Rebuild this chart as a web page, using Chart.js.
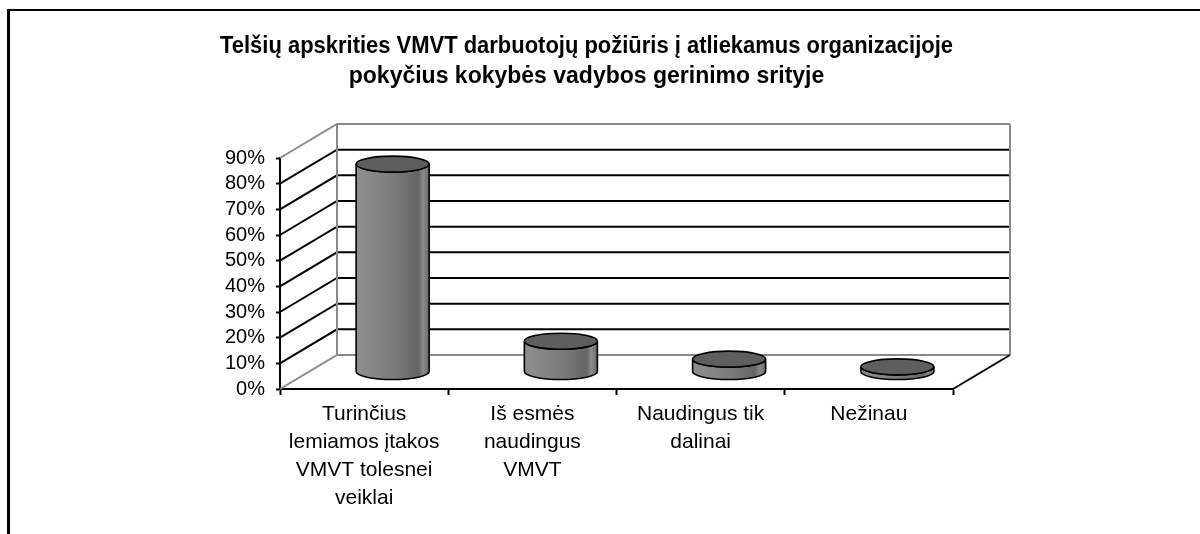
<!DOCTYPE html>
<html>
<head>
<meta charset="utf-8">
<script src="https://cdn.jsdelivr.net/npm/chart.js@4/dist/chart.umd.min.js"></script>
<style>
  body { margin: 0; background: #fff; }
  #wrap { width: 1200px; height: 534px; position: relative; }
</style>
</head>
<body>
<div id="wrap"><canvas id="chart"></canvas></div>
<script>
const titleLines = [
    'Telšių apskrities VMVT darbuotojų požiūris į atliekamus organizacijoje',
    'pokyčius kokybės vadybos gerinimo srityje'
];
const categories = [
    ['Turinčius', 'lemiamos įtakos', 'VMVT tolesnei', 'veiklai'],
    ['Iš esmės', 'naudingus', 'VMVT'],
    ['Naudingus tik', 'dalinai'],
    ['Nežinau']
];
const shares = [81, 12, 5, 2];
const yMin = 0;
const yMax = 90;
const yStep = 10;

const FONT = "'Liberation Sans', Arial, sans-serif";
const DEPTH_X = 57;  // 3d depth offset of the back wall
const DEPTH_Y = 34;

// white page + the frame lines on the left and top
const framePlugin = {
    id: 'frame',
    beforeDraw(chart) {
        const ctx = chart.ctx;
        ctx.save();
        ctx.fillStyle = '#fff';
        ctx.fillRect(0, 0, chart.width, chart.height);
        ctx.strokeStyle = '#000';
        ctx.lineWidth = 3;
        ctx.beginPath();
        ctx.moveTo(8.5, 9);
        ctx.lineTo(8.5, chart.height);
        ctx.stroke();
        ctx.lineWidth = 2;
        ctx.beginPath();
        ctx.moveTo(7, 10);
        ctx.lineTo(chart.width, 10);
        ctx.stroke();
        ctx.restore();
    }
};

// side wall, back wall and floor of the 3d box
const wallsPlugin = {
    id: 'walls',
    beforeDatasetsDraw(chart) {
        const {ctx, chartArea: a, scales: {y}} = chart;
        ctx.save();
        y.ticks.forEach(t => {
            const py = y.getPixelForValue(t.value);
            const edge = t.value === yMin || t.value === yMax;
            ctx.strokeStyle = edge ? '#8a8a8a' : '#000';
            ctx.lineWidth = 2;
            ctx.beginPath();
            ctx.moveTo(a.left, py);
            ctx.lineTo(a.left + DEPTH_X, py - DEPTH_Y);
            ctx.lineTo(a.right + DEPTH_X, py - DEPTH_Y);
            ctx.stroke();
        });
        const top = y.getPixelForValue(yMax) - DEPTH_Y;
        const bottom = y.getPixelForValue(yMin) - DEPTH_Y;
        ctx.strokeStyle = '#8a8a8a';
        ctx.beginPath();
        ctx.moveTo(a.left + DEPTH_X, top);
        ctx.lineTo(a.left + DEPTH_X, bottom);
        ctx.moveTo(a.right + DEPTH_X, top);
        ctx.lineTo(a.right + DEPTH_X, bottom);
        ctx.stroke();
        ctx.strokeStyle = '#000';
        ctx.beginPath();
        ctx.moveTo(a.right, a.bottom);
        ctx.lineTo(a.right + DEPTH_X, a.bottom - DEPTH_Y);
        ctx.stroke();
        ctx.restore();
    }
};

// cylinders, placed half way into the depth
const cylinderPlugin = {
    id: 'cylinders',
    afterDatasetsDraw(chart) {
        const ctx = chart.ctx;
        const meta = chart.getDatasetMeta(0);
        const xs = chart.scales.x;
        const catW = (xs.right - xs.left) / categories.length;
        const rx = catW * 0.217;
        const ry = 8;
        ctx.save();
        meta.data.forEach(el => {
            const cx = el.x + DEPTH_X / 2;
            const topY = el.y - DEPTH_Y / 2;
            const baseY = el.base - DEPTH_Y / 2;
            const g = ctx.createLinearGradient(cx - rx, 0, cx + rx, 0);
            g.addColorStop(0, '#8e8e8e');
            g.addColorStop(0.35, '#838383');
            g.addColorStop(0.7, '#707070');
            g.addColorStop(0.85, '#656565');
            g.addColorStop(0.92, '#8a8a8a');
            g.addColorStop(1, '#6a6a6a');
            ctx.beginPath();
            ctx.moveTo(cx - rx, topY);
            ctx.lineTo(cx - rx, baseY);
            ctx.ellipse(cx, baseY, rx, ry, 0, Math.PI, 0, true);
            ctx.lineTo(cx + rx, topY);
            ctx.ellipse(cx, topY, rx, ry, 0, 0, Math.PI, false);
            ctx.closePath();
            ctx.fillStyle = g;
            ctx.fill();
            ctx.strokeStyle = '#000';
            ctx.lineWidth = 1.6;
            ctx.stroke();
            ctx.beginPath();
            ctx.ellipse(cx, topY, rx, ry, 0, 0, Math.PI * 2);
            ctx.fillStyle = '#5e5e5e';
            ctx.fill();
            ctx.stroke();
        });
        ctx.restore();
    }
};

new Chart('chart', {
    type: 'bar',
    data: {
        labels: categories,
        datasets: [{
            data: shares,
            backgroundColor: 'rgba(0,0,0,0)',
            borderWidth: 0
        }]
    },
    options: {
        responsive: true,
        maintainAspectRatio: false,
        animation: false,
        layout: {
            padding: { top: 0, left: 220, right: 247, bottom: 0 }
        },
        plugins: {
            legend: { display: false },
            tooltip: { enabled: false },
            title: {
                display: true,
                text: titleLines,
                color: '#000',
                font: { family: FONT, size: 23, weight: 'bold', lineHeight: 30 / 23 },
                padding: { top: 32, bottom: 66 }
            }
        },
        scales: {
            x: {
                afterFit: s => { s.height = 145; },
                border: { display: true, color: '#000', width: 2 },
                grid: {
                    drawOnChartArea: false,
                    drawTicks: true,
                    tickLength: 6,
                    tickColor: '#000',
                    tickWidth: 2
                },
                ticks: {
                    color: '#000',
                    padding: 5,
                    maxRotation: 0,
                    autoSkip: false,
                    font: { family: FONT, size: 21, lineHeight: 28 / 21 }
                }
            },
            y: {
                min: yMin,
                max: yMax,
                afterFit: s => { s.width = 60; },
                border: { display: true, color: '#000', width: 2 },
                grid: {
                    drawOnChartArea: false,
                    drawTicks: true,
                    tickLength: 4,
                    tickColor: '#000',
                    tickWidth: 2
                },
                ticks: {
                    stepSize: yStep,
                    autoSkip: false,
                    color: '#000',
                    padding: 11,
                    font: { family: FONT, size: 20 },
                    callback: v => v + '%'
                }
            }
        }
    },
    plugins: [framePlugin, wallsPlugin, cylinderPlugin]
});
</script>
</body>
</html>
